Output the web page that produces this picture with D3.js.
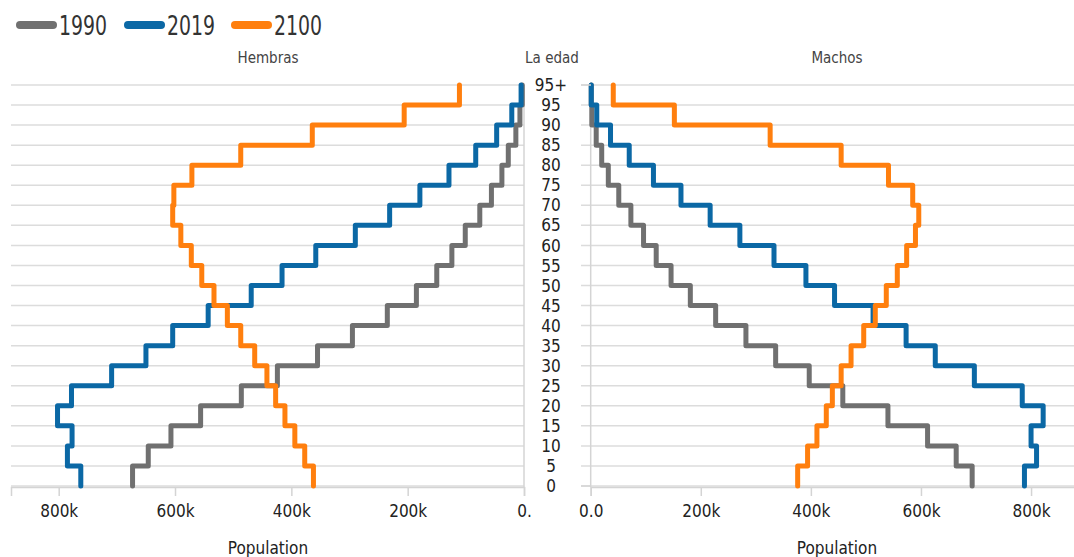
<!DOCTYPE html>
<html>
<head>
<meta charset="utf-8">
<script src="https://cdn.jsdelivr.net/npm/d3@7"></script>
<style>
  body { margin: 0; background: #fff; }
  svg text { font-family: "Liberation Sans Narrow", "DejaVu Sans Condensed", "Roboto", sans-serif; }
</style>
</head>
<body>
<svg id="chart" width="1074" height="557"></svg>
<script>
// age groups (tick labels, bottom to top)
var ages = ["0","5","10","15","20","25","30","35","40","45","50","55","60","65","70","75","80","85","90","95","95+"];

// populations (thousands) per age group 0..95
var female1990 = [673,646,607,556,486,424,355,295,235,185,150,124,101,76,56,38,27,14,7,3];
var female2019 = [762,785,777,802,778,709,650,604,543,469,416,358,290,231,179,129,83,47,21,5];
var female2100 = [362,377,394,411,427,442,463,487,510,533,554,572,590,604,602,571,487,364,206,111];
var male1990 = [693,664,612,540,458,397,336,282,227,181,146,119,96,73,51,32,20,10,2,1];
var male2019 = [788,810,800,822,784,697,626,573,513,443,391,333,271,217,164,114,70,36,11,1];
var male2100 = [376,394,411,428,439,455,473,496,517,537,557,574,590,596,585,541,455,326,152,41];

var years = ["1990","2019","2100"];
var colors = ["#707070","#0b68a5","#ff7f0e"];
var popTicks = [0,200000,400000,600000,800000];

var svg = d3.select("#chart");

var y = d3.scalePoint().domain(ages).range([486, 85]);
var xLeft = d3.scaleLinear().domain([0, 882000]).range([524, 11]);
var xRight = d3.scaleLinear().domain([0, 898000]).range([590.7, 1085]);

// stepped path: each value held between its age row and the next one up
function stepLine(vals, x){
    let pts = [];
    vals.forEach(function(v, i){
        pts.push([x(v*1000), y(ages[i])]);
        pts.push([x(v*1000), y(ages[i+1])]);
    });
    return d3.line()(pts);
}

function drawPanel(x, series, x0, x1, title, titleX, zeroLabel){
    let g = svg.append("g");

    // grid
    g.selectAll("line.grid").data(ages).enter().append("line")
        .attr("x1", x0).attr("x2", x1)
        .attr("y1", d => y(d)).attr("y2", d => y(d))
        .attr("stroke", "#dcdcdc").attr("stroke-width", 1.5);

    // bottom axis
    let ax = g.append("g")
        .attr("transform", "translate(0,487)")
        .call(d3.axisBottom(x).tickValues(popTicks).tickSize(9).tickSizeOuter(9)
            .tickFormat(d => d === 0 ? zeroLabel : d3.format("~s")(d)));
    ax.select(".domain").attr("stroke", "#d4d4d4").attr("stroke-width", 1.5);
    ax.selectAll(".tick line").attr("stroke", "#d4d4d4").attr("stroke-width", 1.5);
    ax.selectAll(".tick text").attr("fill", "#222").attr("font-size", 17).attr("dy", "1.05em");

    // vertical baseline at zero
    g.append("line")
        .attr("x1", x(0)).attr("x2", x(0)).attr("y1", 85).attr("y2", 487)
        .attr("stroke", "#d4d4d4").attr("stroke-width", 1.5);

    series.forEach(function(vals, i){
        g.append("path")
            .attr("d", stepLine(vals, x))
            .attr("fill", "none")
            .attr("stroke", colors[i])
            .attr("stroke-width", 5)
            .attr("stroke-linejoin", "round")
            .attr("stroke-linecap", "round");
    });

    g.append("text").attr("x", titleX).attr("y", 63)
        .attr("text-anchor", "middle").attr("font-size", 15).attr("fill", "#444")
        .text(title);
    g.append("text").attr("x", titleX).attr("y", 554)
        .attr("text-anchor", "middle").attr("font-size", 17).attr("fill", "#222")
        .text("Population");
}

drawPanel(xLeft, [female1990, female2019, female2100], 11, 524, "Hembras", 268, "0.");
drawPanel(xRight, [male1990, male2019, male2100], 581, 1074, "Machos", 837, "0.0");

// small ticks on the right panel's edge
[ages[0], ages[ages.length-1]].forEach(function(a){
    svg.append("line").attr("x1", 581).attr("x2", 591).attr("y1", y(a)).attr("y2", y(a))
        .attr("stroke", "#d4d4d4").attr("stroke-width", 1.5);
});

// age labels
svg.append("text").attr("x", 552).attr("y", 63).attr("text-anchor", "middle")
    .attr("font-size", 15).attr("fill", "#444").text("La edad");
svg.selectAll("text.age").data(ages).enter().append("text")
    .attr("class", "age")
    .attr("x", 551).attr("y", d => y(d))
    .attr("dy", "0.36em")
    .attr("text-anchor", "middle")
    .attr("font-size", 17).attr("fill", "#222")
    .text(d => d);

// legend
var legendX = [20, 128, 235];
years.forEach(function(yr, i){
    svg.append("line")
        .attr("x1", legendX[i]).attr("x2", legendX[i] + 33)
        .attr("y1", 25).attr("y2", 25)
        .attr("stroke", colors[i]).attr("stroke-width", 8)
        .attr("stroke-linecap", "round");
    svg.append("text")
        .attr("x", legendX[i] + 39).attr("y", 35)
        .attr("font-size", 26).attr("fill", "#333")
        .attr("textLength", 48).attr("lengthAdjust", "spacingAndGlyphs")
        .text(yr);
});
</script>
</body>
</html>
